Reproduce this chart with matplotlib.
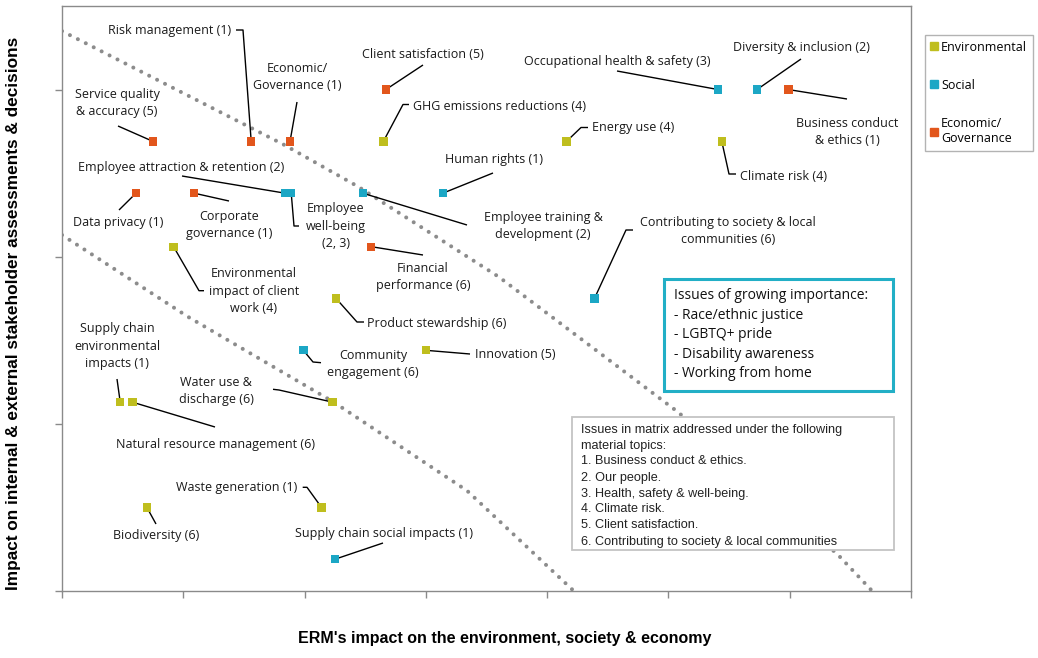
import matplotlib
matplotlib.use("Agg")
import matplotlib.pyplot as plt
from matplotlib.patches import Rectangle
from matplotlib.lines import Line2D

W, H = 1038, 658

# material topics: (ERM impact, stakeholder impact, group)
topics = [
    "Risk management", "Economic/Governance", "Service quality & accuracy",
    "Client satisfaction", "GHG emissions reductions", "Employee attraction & retention",
    "Data privacy", "Corporate governance", "Employee well-being",
    "Employee training & development", "Human rights", "Energy use",
    "Occupational health & safety", "Diversity & inclusion", "Business conduct & ethics",
    "Climate risk", "Contributing to society & local communities",
    "Environmental impact of client work", "Financial performance", "Product stewardship",
    "Community engagement", "Innovation", "Supply chain environmental impacts",
    "Water use & discharge", "Natural resource management", "Waste generation",
    "Biodiversity", "Supply chain social impacts",
]
erm_impact = [
    1.56, 1.88, 0.75,
    2.67, 2.65, 1.84,
    0.61, 1.09, 1.89,
    2.48, 3.14, 4.16,
    5.41, 5.73, 5.99,
    5.44, 4.39,
    0.92, 2.55, 2.26,
    1.99, 3.00, 0.48,
    2.23, 0.58, 2.14,
    0.70, 2.25,
]
stakeholder_impact = [
    2.69, 2.69, 2.69,
    3.00, 2.69, 2.38,
    2.38, 2.38, 2.38,
    2.38, 2.38, 2.69,
    3.00, 3.00, 3.00,
    2.69, 1.75,
    2.06, 2.06, 1.75,
    1.44, 1.44, 1.13,
    1.13, 1.13, 0.50,
    0.50, 0.19,
]
group = [
    "Econ", "Econ", "Econ",
    "Econ", "Env", "Social",
    "Econ", "Econ", "Social",
    "Social", "Social", "Env",
    "Social", "Social", "Econ",
    "Env", "Social",
    "Env", "Econ", "Env",
    "Social", "Env", "Env",
    "Env", "Env", "Env",
    "Env", "Social",
]

groups = ["Env", "Social", "Econ"]
group_names = ["Environmental", "Social", "Economic/\nGovernance"]
group_colors = {"Env": "#BFBE1E", "Social": "#1CA7C5", "Econ": "#E2561C"}

# dotted guide curves
upper_x = [0.0, 1.83, 2.44, 3.6, 5.08, 6.4, 6.68]
upper_y = [3.35, 2.67, 2.42, 1.88, 1.07, 0.215, 0.0]
lower_x = [0.0, 1.04, 2.24, 3.34, 4.22]
lower_y = [2.13, 1.64, 1.13, 0.60, 0.0]

growing = ["Issues of growing importance:", "- Race/ethnic justice", "- LGBTQ+ pride",
           "- Disability awareness", "- Working from home"]
material = ["Issues in matrix addressed under the following", "material topics:",
            "1. Business conduct & ethics.", "2. Our people.",
            "3. Health, safety & well-being.", "4. Climate risk.",
            "5. Client satisfaction.", "6. Contributing to society & local communities"]

# label layout in reference pixels: text, text position, alignment, leader path
layout = [
    ("Risk management (1)", (231, 30), "right", [(243, 30), (236, 30)]),
    ("Economic/\nGovernance (1)", (297, 77), "center", [(297, 102)]),
    ("Service quality\n& accuracy (5)", (117, 103), "center", [(118, 126)]),
    ("Client satisfaction (5)", (423, 54), "center", [(423, 65)]),
    ("GHG emissions reductions (4)", (413, 106), "left", [(403, 104.5), (409, 104.5)]),
    ("Employee attraction & retention (2)", (181, 167), "center", [(182, 176)]),
    ("Data privacy (1)", (118, 222), "center", [(119, 210)]),
    ("Corporate\ngovernance (1)", (229, 225), "center", [(229, 201)]),
    ("Employee\nwell-being\n(2, 3)", (336, 226), "center", [(294, 226), (299, 226)]),
    ("Employee training &\ndevelopment (2)", (543, 226), "center", [(467, 225)]),
    ("Human rights (1)", (494, 159), "center", [(493, 173)]),
    ("Energy use (4)", (592, 128), "left", [(581, 127.5), (588, 127.5)]),
    ("Occupational health & safety (3)", (617, 61), "center", [(617, 71)]),
    ("Diversity & inclusion (2)", (801, 48), "center", [(801, 59)]),
    ("Business conduct\n& ethics (1)", (847, 132), "center", [(847, 99)]),
    ("Climate risk (4)", (740, 176), "left", [(729, 174), (736, 174)]),
    ("Contributing to society & local\ncommunities (6)", (728, 231), "center", [(626, 230), (633, 230)]),
    ("Environmental\nimpact of client\nwork (4)", (254, 291), "center", [(199, 290.7), (204, 290.7)]),
    ("Financial\nperformance (6)", (423, 277), "center", [(423, 255)]),
    ("Product stewardship (6)", (367, 323), "left", [(357, 322), (364, 322)]),
    ("Community\nengagement (6)", (373, 364), "center", [(313, 362), (321, 362.7)]),
    ("Innovation (5)", (475, 354), "left", [(470, 354)]),
    ("Supply chain\nenvironmental\nimpacts (1)", (117, 346), "center", [(117, 379)]),
    ("Water use &\ndischarge (6)", (216, 391), "center", [(279, 390), (273, 389.3)]),
    ("Natural resource management (6)", (215, 444), "center", [(215, 427)]),
    ("Waste generation (1)", (237, 488), "center", [(307, 487.3), (302.7, 487.3)]),
    ("Biodiversity (6)", (156, 535), "center", [(156, 524)]),
    ("Supply chain social impacts (1)", (384, 533), "center", [(383, 543)]),
]

LABEL_FONT = ["Open Sans", "DejaVu Sans"]
ARIAL = ["Liberation Sans", "DejaVu Sans"]

fig = plt.figure(figsize=(W / 100, H / 100), dpi=100)
ax = fig.add_axes([62 / W, 1 - 591 / H, (911 - 62) / W, (591 - 6) / H])
ax.set_xlim(0, 7)
ax.set_ylim(0, 3.5)
ax.set_xticks(range(8))
ax.set_yticks(range(4))
ax.set_xticklabels([])
ax.set_yticklabels([])
ax.tick_params(direction="out", length=5, color="#8a8a8a", width=1)
for s in ax.spines.values():
    s.set_color("#8a8a8a")
    s.set_linewidth(1)


def ref_to_data(x, y):
    return ax.transData.inverted().transform((x, H - y))


# guide curves
for gx, gy in [(upper_x, upper_y), (lower_x, lower_y)]:
    ax.plot(gx, gy, color="#8c8c8c", lw=2.9, linestyle=(0, (0.01, 2.2)),
            dash_capstyle="round", zorder=1)

# leader lines and labels
for i, (txt, (tx, ty), ha, path) in enumerate(layout):
    pts = [(erm_impact[i], stakeholder_impact[i])] + [tuple(ref_to_data(*p)) for p in path]
    ax.plot([p[0] for p in pts], [p[1] for p in pts], color="black", lw=1.0, zorder=2,
            solid_capstyle="butt")
    lx, ly = ref_to_data(tx, ty)
    ax.text(lx, ly, txt, ha=ha, va="center", multialignment="center",
            fontsize=9.0, family=LABEL_FONT, color="#1a1a1a", linespacing=1.42, zorder=5)

# markers
for g in groups:
    xs = [x for x, gg in zip(erm_impact, group) if gg == g]
    ys = [y for y, gg in zip(stakeholder_impact, group) if gg == g]
    ax.scatter(xs, ys, marker="s", s=36, color=group_colors[g], edgecolors="none", zorder=4)

# legend
handles = [Line2D([], [], marker="s", ls="", color=group_colors[g], markersize=6) for g in groups]
leg = ax.legend(handles, group_names, loc="upper left",
                bbox_to_anchor=(925 / W, 1 - 35 / H), bbox_transform=fig.transFigure,
                frameon=True, fancybox=False, edgecolor="#a0a0a0", labelspacing=2.0,
                handlelength=0.5, handletextpad=0.35, borderpad=0.45, borderaxespad=0,
                prop={"family": LABEL_FONT, "size": 9.0})
leg.get_frame().set_linewidth(1)
for t in leg.get_texts():
    t.set_linespacing(1.25)

# growing importance box
fig.add_artist(Rectangle((664 / W, 1 - 391 / H), (893 - 664) / W, (391 - 279) / H,
                         transform=fig.transFigure, facecolor="white",
                         edgecolor="#22AFC6", lw=2.2, zorder=3))
for k, line in enumerate(growing):
    fig.text(674 / W, 1 - (295.5 + 19.6 * k) / H, line, ha="left", va="center",
             fontsize=10, family=LABEL_FONT, color="#111111", zorder=4)

# material topics note
fig.add_artist(Rectangle((572 / W, 1 - 550 / H), (894 - 572) / W, (550 - 417) / H,
                         transform=fig.transFigure, facecolor="white",
                         edgecolor="#c4c4c4", lw=1.3, zorder=3))
for k, line in enumerate(material):
    fig.text(581 / W, 1 - (429.5 + 16 * k) / H, line, ha="left", va="center",
             fontsize=9.1, family=ARIAL, color="#222222", zorder=4)

# axis titles
fig.text(505 / W, 1 - 638 / H, "ERM's impact on the environment, society & economy",
         ha="center", va="center", fontsize=11.5, fontweight="bold", family=ARIAL)
fig.text(14 / W, 1 - 313 / H, "Impact on internal & external stakeholder assessments & decisions",
         ha="center", va="center", rotation=90, fontsize=12.4, fontweight="bold", family=ARIAL)

fig.savefig("out.png", dpi=100)
